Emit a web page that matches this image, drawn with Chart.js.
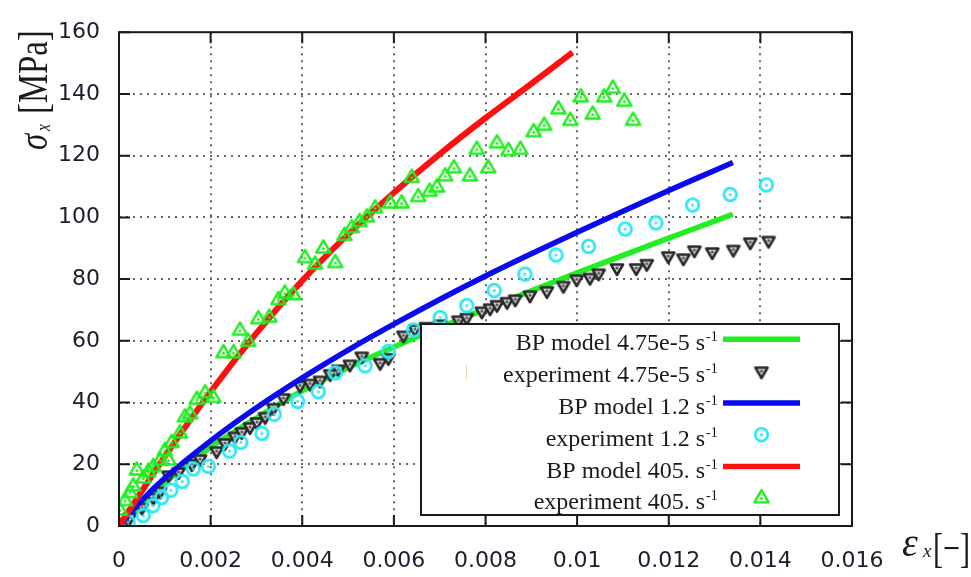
<!DOCTYPE html>
<html>
<head>
<meta charset="utf-8">
<script src="https://cdn.jsdelivr.net/npm/chart.js@4.4.0/dist/chart.umd.min.js"></script>
<style>
html, body { margin: 0; padding: 0; background: #fff; }
canvas { display: block; }
</style>
</head>
<body>
<canvas id="c" width="971" height="577"></canvas>
<script>
// tick labels
var xTickLabels = ['0', '0.002', '0.004', '0.006', '0.008', '0.01', '0.012', '0.014', '0.016'];
var yTickLabels = ['0', '20', '40', '60', '80', '100', '120', '140', '160'];

// BP model curves
var model475X = [0, 0.001, 0.002, 0.003, 0.004, 0.005, 0.006, 0.007, 0.008, 0.009, 0.010, 0.011, 0.012, 0.013, 0.0134];
var model475Y = [0, 14, 25.5, 35, 43.8, 51.3, 58, 64.3, 70.3, 76.2, 82, 87.7, 93.3, 98.8, 101];
var model12X = [0, 0.0005, 0.001, 0.002, 0.003, 0.004, 0.005, 0.006, 0.007, 0.008, 0.009, 0.010, 0.011, 0.012, 0.013, 0.0134];
var model12Y = [0, 8.3, 15.5, 27.6, 38.3, 48, 57, 65.4, 73.4, 81, 88.2, 95.2, 102, 108.7, 115.2, 117.8];
var model405X = [0, 0.001, 0.002, 0.003, 0.004, 0.005, 0.006, 0.007, 0.008, 0.009, 0.0099];
var model405Y = [0, 22.5, 43.5, 62.5, 79.5, 94.5, 108, 120.5, 132.2, 143.3, 153.5];

// experiments
var exp475X = [0.0001, 0.00024, 0.0005, 0.00075, 0.0009, 0.00108, 0.0013, 0.00159, 0.00177, 0.00213, 0.00231, 0.00253, 0.00268,
  0.00286, 0.00301, 0.00319, 0.00337, 0.00359, 0.00395, 0.00417, 0.00439, 0.00461, 0.00479, 0.00504, 0.0053, 0.0057,
  0.00588, 0.00621, 0.00646, 0.0067, 0.00701, 0.00741, 0.00759, 0.00792, 0.0081, 0.00825, 0.00847, 0.00865, 0.00897,
  0.00934, 0.0097, 0.00999, 0.01028, 0.01047, 0.01087, 0.01129, 0.01152, 0.01199, 0.01232, 0.01256, 0.01295, 0.01341,
  0.01378, 0.01418];
var exp475Y = [1.2, 2.9, 6, 9.2, 11.2, 16.5, 17.5, 20.1, 21.7, 24.3, 26.9, 29, 30.5,
  32.1, 33.7, 35.4, 38.3, 41.5, 45.6, 46.2, 47.2, 49.3, 50.8, 52.4, 55, 52.9,
  54.5, 61.8, 63.8, 64.6, 65.4, 66.7, 67.5, 69.6, 70.6, 71.7, 72.7, 73.5, 74.8,
  76.2, 77.9, 80, 80.5, 81.9, 83.6, 83.6, 85, 87.5, 86.8, 89.4, 88.8, 89.6,
  92, 92.5];
var exp12X = [0.0002, 0.00053, 0.00074, 0.00093, 0.00113, 0.00138, 0.00162, 0.00195, 0.00241, 0.00266, 0.00312, 0.00339,
  0.0039, 0.00435, 0.00472, 0.00537, 0.00588, 0.00643, 0.00701, 0.00759, 0.00819, 0.00886, 0.00954, 0.01025, 0.01105,
  0.01172, 0.01252, 0.01334, 0.01413];
var exp12Y = [1.3, 3.4, 6.6, 9.2, 11.6, 14.4, 18.5, 19.3, 24.3, 27.1, 30, 36.2,
  40.4, 43.5, 49.6, 51.9, 56.6, 63.5, 67.5, 71.4, 76.3, 81.6, 87.8, 90.6, 96.2,
  98.2, 104, 107.4, 110.5];
var exp405X = [0.00002, 0.00013, 0.00024, 0.00031, 0.00039, 0.00053, 0.00064, 0.00075, 0.0009, 0.001, 0.00108, 0.00115,
  0.00133, 0.00144, 0.00155, 0.0017, 0.00188, 0.00206, 0.00228, 0.0025, 0.00264, 0.00282, 0.00304, 0.00328, 0.00348,
  0.00362, 0.00381, 0.00406, 0.00428, 0.00446, 0.00472, 0.00492, 0.00508, 0.00525, 0.00541, 0.00559, 0.00592, 0.00617,
  0.00639, 0.00653, 0.00678, 0.00694, 0.00712, 0.00731, 0.00766, 0.00781, 0.00806, 0.00825, 0.0085, 0.00876, 0.00905,
  0.00928, 0.00959, 0.00985, 0.01008, 0.01034, 0.01059, 0.01078, 0.01103, 0.01122];
var exp405Y = [5, 8.1, 10.7, 12.8, 18, 15.4, 17.5, 19.1, 21.2, 24.3, 21.2, 26.9,
  30, 35.2, 36.2, 40.9, 43, 41.5, 56, 56, 63.3, 59.7, 67, 67.5, 73.2,
  75.3, 74.8, 86.8, 84.7, 89.9, 85.2, 94, 96.5, 98.5, 100, 102.9, 104.5, 104.5,
  112.8, 106.6, 108.3, 109.7, 113.3, 115.9, 113.3, 121.9, 115.9, 124, 121.5, 121.9, 127.6,
  129.7, 135, 131.3, 138.9, 133.3, 138.9, 141.7, 137.5, 131.3];

var seriesLabels = ['BP model 4.75e-5 s', 'experiment 4.75e-5 s', 'BP model 1.2 s', 'experiment 1.2 s', 'BP model 405. s', 'experiment 405. s'];
var unitSup = '-1';

function pts(xs, ys) {
  return xs.map(function (v, i) { return { x: v, y: ys[i] }; });
}

// small canvases used as point styles (outline + centre dot, gnuplot look)
function marker(shape, color, r, lw, fill, dot) {
  var s = Math.ceil(r * 2 + 8);
  var c = document.createElement('canvas');
  c.width = s; c.height = s;
  var g = c.getContext('2d');
  var m = s / 2;
  g.strokeStyle = color;
  g.lineWidth = lw;
  g.lineJoin = 'round';
  g.beginPath();
  if (shape == 'circle') {
    g.arc(m, m, r, 0, Math.PI * 2);
  } else if (shape == 'up') {
    g.moveTo(m, m - r); g.lineTo(m + r * 0.87, m + r * 0.5); g.lineTo(m - r * 0.87, m + r * 0.5); g.closePath();
  } else {
    g.moveTo(m, m + r); g.lineTo(m + r * 0.87, m - r * 0.5); g.lineTo(m - r * 0.87, m - r * 0.5); g.closePath();
  }
  if (fill) { g.fillStyle = fill; g.fill(); }
  g.stroke();
  g.fillStyle = dot;
  g.beginPath();
  g.arc(m, m, 1.5, 0, Math.PI * 2);
  g.fill();
  return c;
}

var mkBlack = marker('down', '#2a2a2a', 7, 2.5, '#d8d8d8', '#555');
var mkCyan = marker('circle', '#2ee6f6', 6.3, 2.8, null, '#2ee6f6');
var mkGreen = marker('up', '#22ee22', 8.2, 2.5, null, '#22ee22');

var serif = '"Liberation Serif", "Times New Roman", serif';

var deco = {
  id: 'deco',
  beforeDatasetsDraw: function (chart) {
    var ctx = chart.ctx, a = chart.chartArea, xs = chart.scales.x, ys = chart.scales.y;
    ctx.save();
    ctx.strokeStyle = '#666';
    ctx.lineWidth = 2;
    ctx.setLineDash([2, 5]);
    xs.ticks.forEach(function (t) {
      var px = Math.round(xs.getPixelForValue(t.value));
      if (px > a.left + 2 && px < a.right - 2) {
        ctx.beginPath(); ctx.moveTo(px, a.top); ctx.lineTo(px, a.bottom); ctx.stroke();
      }
    });
    ys.ticks.forEach(function (t) {
      var py = Math.round(ys.getPixelForValue(t.value));
      if (py > a.top + 2 && py < a.bottom - 2) {
        ctx.beginPath(); ctx.moveTo(a.left, py); ctx.lineTo(a.right, py); ctx.stroke();
      }
    });
    ctx.restore();
  },
  afterDatasetsDraw: function (chart) {
    var ctx = chart.ctx, a = chart.chartArea, xs = chart.scales.x, ys = chart.scales.y;
    ctx.save();
    // frame and inward ticks
    ctx.strokeStyle = '#1a1a1a';
    ctx.lineWidth = 2;
    ctx.strokeRect(a.left, a.top, a.right - a.left, a.bottom - a.top);
    var tl = 11;
    xs.ticks.forEach(function (t) {
      var px = xs.getPixelForValue(t.value);
      ctx.beginPath();
      ctx.moveTo(px, a.bottom); ctx.lineTo(px, a.bottom - tl);
      ctx.moveTo(px, a.top); ctx.lineTo(px, a.top + tl);
      ctx.stroke();
    });
    ys.ticks.forEach(function (t) {
      var py = ys.getPixelForValue(t.value);
      ctx.beginPath();
      ctx.moveTo(a.left, py); ctx.lineTo(a.left + tl, py);
      ctx.moveTo(a.right, py); ctx.lineTo(a.right - tl, py);
      ctx.stroke();
    });

    // legend box
    var lx = 421, ly = 324, lw = 418, lh = 191;
    ctx.fillStyle = '#fff';
    ctx.fillRect(lx, ly, lw, lh);
    ctx.strokeStyle = '#1a1a1a';
    ctx.lineWidth = 2;
    ctx.strokeRect(lx, ly, lw, lh);
    ctx.strokeStyle = '#ead9b0';
    ctx.lineWidth = 1;
    ctx.beginPath(); ctx.moveTo(466.5, 364); ctx.lineTo(466.5, 379); ctx.stroke();
    chart.data.datasets.forEach(function (ds, i) {
      var y = ly + 15.3 + 31.8 * i;
      ctx.fillStyle = '#1a1a1a';
      ctx.textAlign = 'right';
      ctx.textBaseline = 'alphabetic';
      ctx.font = '24px ' + serif;
      ctx.fillText(ds.label, 705, y + 11);
      ctx.textAlign = 'left';
      ctx.font = '14px ' + serif;
      ctx.fillText(unitSup, 706, y + 2);
      if (ds.showLine) {
        ctx.strokeStyle = ds.borderColor;
        ctx.lineWidth = 5.5;
        ctx.beginPath(); ctx.moveTo(723, y); ctx.lineTo(800, y); ctx.stroke();
      } else {
        var img = ds.pointStyle;
        ctx.drawImage(img, 761.5 - img.width / 2, y - img.height / 2);
      }
    });

    // axis titles
    ctx.fillStyle = '#1a1a1a';
    ctx.textAlign = 'left';
    ctx.textBaseline = 'alphabetic';
    ctx.save();
    ctx.translate(47, 150);
    ctx.rotate(-Math.PI / 2);
    ctx.scale(0.78, 1);
    ctx.font = 'italic 42px ' + serif;
    ctx.fillText('\u03c3', 0, 0);
    ctx.font = 'italic 20px ' + serif;
    ctx.fillText('x', 19 / 0.78, 3);
    ctx.font = '42px ' + serif;
    ctx.fillText('[MPa]', 36 / 0.78, 0);
    ctx.restore();

    ctx.font = 'italic 40px ' + serif;
    ctx.fillText('\u03b5', 902, 556);
    ctx.font = 'italic 19px ' + serif;
    ctx.fillText('x', 923, 557);
    ctx.save();
    ctx.translate(933, 562);
    ctx.scale(0.72, 1);
    ctx.font = '42px ' + serif;
    ctx.fillText('[\u2212]', 0, 0);
    ctx.restore();
    ctx.restore();
  }
};

var tickFont = { family: '"DejaVu Sans", sans-serif', size: 22 };

new Chart(document.getElementById('c'), {
  type: 'scatter',
  data: {
    datasets: [
      { label: seriesLabels[0], data: pts(model475X, model475Y), showLine: true, borderColor: '#22ee22', borderWidth: 5.5, pointRadius: 0, cubicInterpolationMode: 'monotone', order: 6 },
      { label: seriesLabels[1], data: pts(exp475X, exp475Y), showLine: false, pointStyle: mkBlack, pointRadius: 7, order: 5 },
      { label: seriesLabels[2], data: pts(model12X, model12Y), showLine: true, borderColor: '#0a0aee', borderWidth: 5.5, pointRadius: 0, cubicInterpolationMode: 'monotone', order: 4 },
      { label: seriesLabels[3], data: pts(exp12X, exp12Y), showLine: false, pointStyle: mkCyan, pointRadius: 7, order: 3 },
      { label: seriesLabels[4], data: pts(model405X, model405Y), showLine: true, borderColor: '#ff1010', borderWidth: 6, pointRadius: 0, cubicInterpolationMode: 'monotone', order: 2 },
      { label: seriesLabels[5], data: pts(exp405X, exp405Y), showLine: false, pointStyle: mkGreen, pointRadius: 8, order: 1 }
    ]
  },
  options: {
    responsive: false,
    devicePixelRatio: 1,
    animation: false,
    layout: { padding: { top: 14, right: 119, left: 0, bottom: 0 } },
    plugins: { legend: { display: false }, tooltip: { enabled: false } },
    scales: {
      x: {
        type: 'linear', min: 0, max: 0.016,
        grid: { display: false, drawTicks: false },
        border: { display: false },
        afterFit: function (s) { s.height = 51; },
        ticks: {
          stepSize: 0.002, padding: 22, maxRotation: 0, autoSkip: false,
          color: '#1c1c2c', font: tickFont,
          callback: function (v, i) { return xTickLabels[i]; }
        }
      },
      y: {
        type: 'linear', min: 0, max: 160,
        grid: { display: false, drawTicks: false },
        border: { display: false },
        afterFit: function (s) { s.width = 119; },
        ticks: {
          stepSize: 20, padding: 19,
          color: '#1c1c2c', font: tickFont,
          callback: function (v, i) { return yTickLabels[i]; }
        }
      }
    }
  },
  plugins: [deco]
});
</script>
</body>
</html>
